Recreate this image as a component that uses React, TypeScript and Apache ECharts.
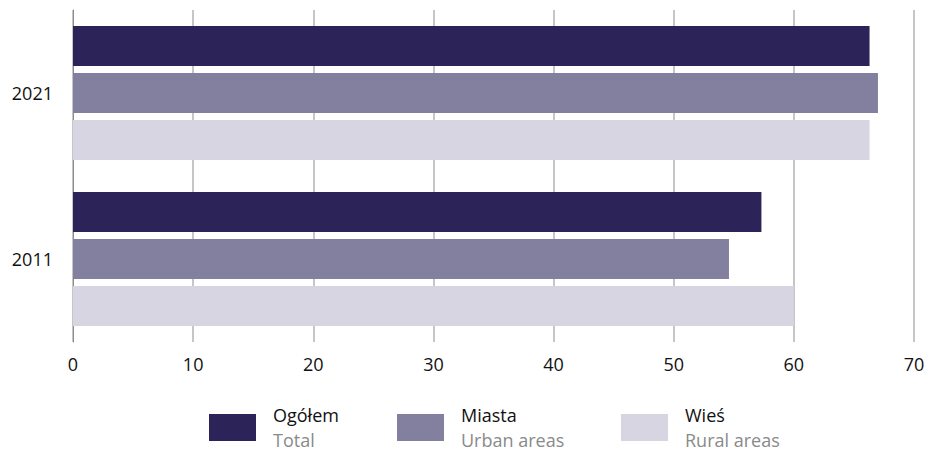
import React, { useEffect, useRef } from "react";
import * as echarts from "echarts";

const categories = ["2021", "2011"];
const seriesNames = ["Ogółem", "Miasta", "Wieś"];
const seriesSubNames = ["Total", "Urban areas", "Rural areas"];
const totalValues = [66.3, 57.3];
const urbanValues = [67.0, 54.6];
const ruralValues = [66.3, 60.0];
const xTicks = { min: 0, max: 70, interval: 10 };

const colors = ["#2c2459", "#837f9f", "#d7d5e1"];
const FONT = "'Open Sans', 'Noto Sans', sans-serif";

export default function App() {
  const ref = useRef<HTMLDivElement>(null);
  useEffect(() => {
    if (!ref.current) return;
    const chart = echarts.init(ref.current, null, { renderer: "svg" });
    const values = [totalValues, urbanValues, ruralValues];
    const legendLefts = [209, 397, 621];
    chart.setOption({
      animation: false,
      textStyle: { fontFamily: FONT },
      grid: { left: 73, right: 14, top: 10, bottom: 110 },
      xAxis: {
        type: "value",
        min: xTicks.min,
        max: xTicks.max,
        interval: xTicks.interval,
        axisLine: { show: false },
        axisTick: { show: false },
        axisLabel: { color: "#111", fontSize: 18, margin: 13, fontFamily: FONT },
        splitLine: { show: true, lineStyle: { color: "#b3b3b3", width: 1.5 } },
      },
      yAxis: {
        type: "category",
        data: categories,
        inverse: true,
        axisLine: { show: true, lineStyle: { color: "#8c8c8c", width: 1 } },
        axisTick: { show: false },
        axisLabel: { color: "#111", fontSize: 18, margin: 20, fontFamily: FONT },
      },
      legend: seriesNames.map((name, i) => ({
        data: [name],
        left: legendLefts[i],
        top: 406,
        padding: 0,
        itemWidth: 47,
        itemHeight: 27,
        icon: "rect",
        selectedMode: false,
        formatter: (n: string) => `{a|${n}}\n{b|${seriesSubNames[seriesNames.indexOf(n)]}}`,
        textStyle: {
          rich: {
            a: { fontSize: 18, color: "#111", lineHeight: 25, fontFamily: FONT, padding: [0, 0, 0, 12] },
            b: { fontSize: 18, color: "#8a8a8a", lineHeight: 25, fontFamily: FONT, padding: [0, 0, 0, 12] },
          },
        },
      })),
      series: seriesNames.map((name, i) => ({
        name,
        type: "bar",
        data: values[i],
        barWidth: 40,
        barGap: "17.5%",
        itemStyle: { color: colors[i] },
      })),
    });
    return () => chart.dispose();
  }, []);
  return <div ref={ref} style={{ width: 928, height: 452, position: "absolute", left: 0, top: 0 }} />;
}
